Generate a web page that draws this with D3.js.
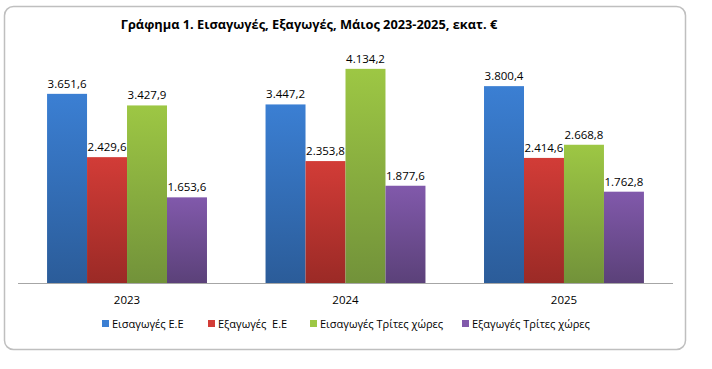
<!DOCTYPE html>
<html>
<head>
<meta charset="utf-8">
<script src="https://cdn.jsdelivr.net/npm/d3@7"></script>
<style>
  body { margin: 0; background: #fff; }
  text { font-family: "Open Sans", "Noto Sans", sans-serif; }
</style>
</head>
<body>
<script>
// data
var years = ["2023", "2024", "2025"];
var seriesNames = ["Εισαγωγές Ε.Ε", "Εξαγωγές  Ε.Ε", "Εισαγωγές Τρίτες χώρες", "Εξαγωγές Τρίτες χώρες"];
var importsEU = [3651.6, 3447.2, 3800.4];
var exportsEU = [2429.6, 2353.8, 2414.6];
var importsThird = [3427.9, 4134.2, 2668.8];
var exportsThird = [1653.6, 1877.6, 1762.8];
var seriesValues = [importsEU, exportsEU, importsThird, exportsThird];

function main() {
  var width = 712, height = 369;
  var colors = [
    ["#3b7fd3", "#2b5c99"],
    ["#d23c37", "#9b2a26"],
    ["#9dc744", "#72923a"],
    ["#8159ab", "#5b4179"]
  ];

  var svg = d3.select("body").append("svg")
    .attr("width", width).attr("height", height);

  var defs = svg.append("defs");
  colors.forEach(function (c, i) {
    var g = defs.append("linearGradient").attr("id", "g" + i)
      .attr("x1", 0).attr("y1", 0).attr("x2", 0).attr("y2", 1);
    g.append("stop").attr("offset", "0%").attr("stop-color", c[0]);
    g.append("stop").attr("offset", "100%").attr("stop-color", c[1]);
  });

  // outer frame
  svg.append("rect")
    .attr("x", 4.5).attr("y", 6.5).attr("width", 681).attr("height", 343)
    .attr("rx", 9).attr("fill", "#fff")
    .attr("stroke", "#bfbfbf").attr("stroke-width", 1.5);

  svg.append("text")
    .attr("x", 309).attr("y", 29)
    .attr("text-anchor", "middle")
    .attr("font-size", 12.8).attr("font-weight", "bold")
    .text("Γράφημα 1. Εισαγωγές, Εξαγωγές, Μάιος 2023-2025, εκατ. €");

  var x0 = d3.scaleBand().domain(years).range([18, 673]).paddingInner(0.268).paddingOuter(0.133);
  var x1 = d3.scaleBand().domain(d3.range(4)).range([0, x0.bandwidth()]);
  var y = d3.scaleLinear().domain([0, 5000]).range([283, 24]);

  var groups = svg.selectAll("g.year").data(years).enter().append("g")
    .attr("class", "year")
    .attr("transform", function (d) { return "translate(" + x0(d) + ",0)"; });

  groups.each(function (yr, yi) {
    var g = d3.select(this);
    var vals = seriesValues.map(function (s) { return s[yi]; });
    g.selectAll("rect").data(vals).enter().append("rect")
      .attr("x", function (d, i) { return x1(i); })
      .attr("y", function (d) { return y(d); })
      .attr("width", x1.bandwidth())
      .attr("height", function (d) { return y(0) - y(d); })
      .attr("fill", function (d, i) { return "url(#g" + i + ")"; });
    g.selectAll("text").data(vals).enter().append("text")
      .attr("x", function (d, i) { return x1(i) + x1.bandwidth() / 2; })
      .attr("y", function (d) { return y(d) - 6; })
      .attr("text-anchor", "middle")
      .attr("font-size", 11.5)
      .attr("fill", "#000")
      .text(function (d) {
        return d3.format(",.1f")(d).replace(/,/g, "#").replace(".", ",").replace(/#/g, ".");
      });
  });

  // x axis
  var xAxis = svg.append("g").attr("transform", "translate(0," + y(0) + ")")
    .call(d3.axisBottom(x0).tickSize(0).tickPadding(13));
  xAxis.select(".domain").attr("stroke", "#a6a6a6").attr("d", "M18,0.5H673");
  xAxis.selectAll("text").attr("font-size", 11.5).attr("fill", "#000")
    .style("font-family", "'Open Sans', 'Noto Sans', sans-serif");

  // legend
  var legendX = [102, 208, 310, 462];
  var leg = svg.selectAll("g.leg").data(seriesNames).enter().append("g")
    .attr("class", "leg")
    .attr("transform", function (d, i) { return "translate(" + legendX[i] + ",328)"; });
  leg.append("rect").attr("x", 0).attr("y", -8).attr("width", 7).attr("height", 7)
    .attr("fill", function (d, i) { return colors[i][0]; });
  leg.append("text").attr("x", 10).attr("y", 0)
    .attr("font-size", 11).attr("fill", "#000")
    .style("white-space", "pre").attr("xml:space", "preserve")
    .text(function (d) { return d; });
}
document.addEventListener("DOMContentLoaded", main);
</script>
</body>
</html>
